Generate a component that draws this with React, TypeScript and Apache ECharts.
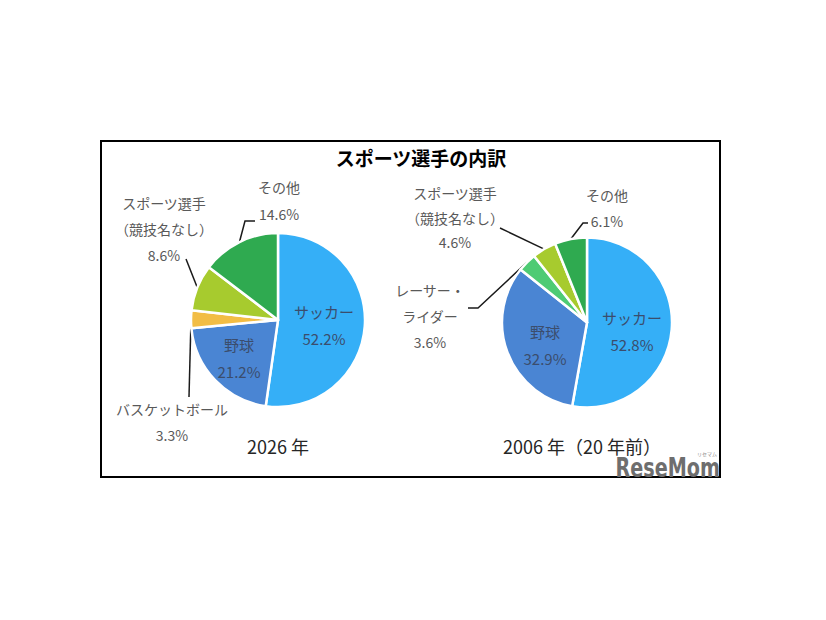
import React, { useEffect, useRef } from 'react';
import * as echarts from 'echarts';

// ---- data ----
const titleText = 'スポーツ選手の内訳';

const year2026 = '2026 年';
const categories2026 = ['サッカー', '野球', 'バスケットボール', 'スポーツ選手（競技名なし）', 'その他'];
const labelNames2026 = ['サッカー', '野球', 'バスケットボール', 'スポーツ選手\n（競技名なし）', 'その他'];
const values2026 = [52.2, 21.2, 3.3, 8.6, 14.6];

const year2006 = '2006 年（20 年前）';
const categories2006 = ['サッカー', '野球', 'レーサー・ライダー', 'スポーツ選手（競技名なし）', 'その他'];
const labelNames2006 = ['サッカー', '野球', 'レーサー・\nライダー', 'スポーツ選手\n（競技名なし）', 'その他'];
const values2006 = [52.8, 32.9, 3.6, 4.6, 6.1];

// ---- styles / layout ----
const colors2026 = ['#35AFF7', '#4A85D3', '#F2BD45', '#A7CB2E', '#2FAA50'];
const colors2006 = ['#35AFF7', '#4A85D3', '#4ECB74', '#A7CB2E', '#2FAA50'];
const inside2026 = [true, true, false, false, false];
const inside2006 = [true, true, false, false, false];
const labelPos2026 = [[324, 325], [239, 358], [172, 422], [164, 229], [279, 200.5]];
const labelPos2006 = [[632, 331], [545, 345], [430, 316], [455, 217.5], [607, 208]];
const guide2026: (number[][] | null)[] = [null, null, [[189, 397], [189, 397]], [[186, 259], [186, 259]], [[245, 221], [255, 221]]];
const guide2006: (number[][] | null)[] = [null, null, [[478, 308], [468, 308]], [[500, 228], [500, 228]], [[583, 223], [588, 223]]];
const lineHeights2006 = [27, 27, 26, 24.5, 26];
const lineHeights2026 = [27, 27, 26, 26, 27];

const FONT = '"Noto Sans CJK JP", "Noto Sans", sans-serif';

function makeSeries(
  name: string,
  center: number[],
  radius: number,
  cats: string[],
  labelNames: string[],
  values: number[],
  colors: string[],
  inside: boolean[],
  pos: number[][],
  guides: (number[][] | null)[],
  lhs: number[]
) {
  const total = values.reduce((a, b) => a + b, 0);
  const cum: number[] = [];
  let acc = 0;
  values.forEach((v) => { cum.push(acc); acc += v; });
  return {
    type: 'pie',
    name,
    center,
    radius,
    startAngle: 90,
    clockwise: true,
    avoidLabelOverlap: false,
    itemStyle: { borderColor: '#ffffff', borderWidth: 2.5 },
    emphasis: { disabled: true },
    data: cats.map((c, i) => ({
      name: c,
      value: values[i],
      itemStyle: { color: colors[i] },
      label: inside[i]
        ? { show: true, position: 'inside', color: '#3B4D6D', fontSize: 15, lineHeight: lhs[i], fontFamily: FONT }
        : { show: true, position: 'outside', color: '#595959', fontSize: 14, lineHeight: lhs[i], fontFamily: FONT },
      labelLine: inside[i] ? { show: false } : { show: true, lineStyle: { color: '#1a1a1a', width: 1.5 } },
    })),
    label: {
      formatter: (p: any) => labelNames[p.dataIndex] + '\n' + Number(p.value).toFixed(1) + '%',
    },
    labelLayout: (params: any) => {
      const i = params.dataIndex;
      const res: any = { x: pos[i][0], y: pos[i][1], align: 'center', verticalAlign: 'middle' };
      const g = guides[i];
      if (g) {
        let p0: number[];
        if (params.labelLinePoints && params.labelLinePoints[0]) {
          p0 = params.labelLinePoints[0];
        } else {
          const a = ((cum[i] + values[i] / 2) / total) * Math.PI * 2;
          p0 = [center[0] + radius * Math.sin(a), center[1] - radius * Math.cos(a)];
        }
        res.labelLinePoints = [p0, g[0], g[1]];
      }
      return res;
    },
  };
}

export default function App() {
  const ref = useRef<HTMLDivElement>(null);
  useEffect(() => {
    if (!ref.current) return;
    const chart = echarts.init(ref.current, null, { renderer: 'svg' });
    chart.setOption({
      animation: false,
      backgroundColor: '#ffffff',
      title: [
        {
          text: titleText,
          left: 421,
          top: 148,
          textAlign: 'center',
          padding: 0,
          textStyle: { fontFamily: FONT, fontSize: 19, fontWeight: 'bold', color: '#000000' },
        },
        {
          text: year2026,
          left: 278,
          top: 437,
          textAlign: 'center',
          padding: 0,
          textStyle: { fontFamily: FONT, fontSize: 18, lineHeight: 18, fontWeight: 'normal', color: '#262626' },
        },
        {
          text: year2006,
          left: 582,
          top: 437,
          textAlign: 'center',
          padding: 0,
          textStyle: { fontFamily: FONT, fontSize: 18, lineHeight: 18, fontWeight: 'normal', color: '#262626' },
        },
      ],
      graphic: [
        {
          type: 'rect',
          z: -10,
          shape: { x: 101, y: 141, width: 619, height: 336 },
          style: { fill: '#ffffff', stroke: '#000000', lineWidth: 2 },
        },
        {
          type: 'text',
          z: 10,
          x: 720,
          y: 479,
          scaleX: 0.82,
          style: {
            text: 'ReseMom',
            fill: '#6e6e6e',
            fontSize: 26,
            lineHeight: 21,
            fontWeight: 'bold',
            fontFamily: '"DejaVu Sans Condensed", "DejaVu Sans", sans-serif',
            align: 'right',
            verticalAlign: 'bottom',
          },
        },
        {
          type: 'text',
          z: 10,
          x: 707,
          y: 453,
          style: {
            text: 'リセマム',
            fill: '#8a8a8a',
            fontSize: 5,
            lineHeight: 5,
            fontFamily: FONT,
            align: 'center',
            verticalAlign: 'middle',
          },
        },
      ],
      series: [
        makeSeries('2026', [278, 320], 87, categories2026, labelNames2026, values2026, colors2026, inside2026, labelPos2026, guide2026, lineHeights2026),
        makeSeries('2006', [587, 322.5], 85, categories2006, labelNames2006, values2006, colors2006, inside2006, labelPos2006, guide2006, lineHeights2006),
      ],
    });
    return () => chart.dispose();
  }, []);
  return <div ref={ref} style={{ position: 'fixed', left: 0, top: 0, width: 826, height: 620 }} />;
}
